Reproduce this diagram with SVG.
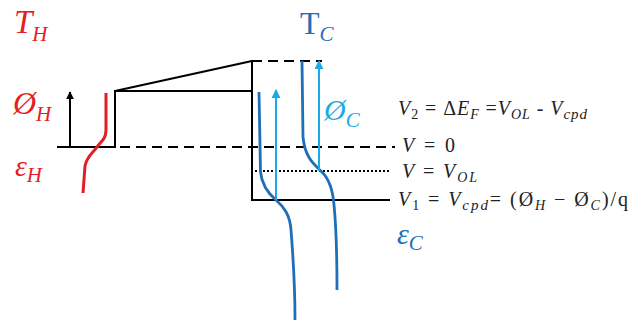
<svg xmlns="http://www.w3.org/2000/svg" width="631" height="320" viewBox="0 0 631 320">
<style>
.k{stroke:#000;stroke-width:2;fill:none}
.dash{stroke:#000;stroke-width:2.2;fill:none;stroke-dasharray:10,6}
.dot{stroke:#000;stroke-width:1.8;fill:none;stroke-dasharray:2,2}
.red{stroke:#e31e24;stroke-width:3;fill:none}
.blue{stroke:#1f6fb8;stroke-width:2.8;fill:none}
.lb{stroke:#1aabe6;stroke-width:2;fill:none}
.m{font-family:"Liberation Serif",serif;font-style:italic}
.rt{fill:#e31e24}
.bt{fill:#1f6fb8}
.lbt{fill:#1aabe6}
.eq{font-family:"Liberation Serif",serif;font-style:italic;font-size:20px;fill:#222}
</style>
<defs>
<marker id="ak" viewBox="0 0 10 10" refX="9" refY="5" markerWidth="8" markerHeight="8" markerUnits="userSpaceOnUse" orient="auto"><path d="M0,0 L10,5 L0,10 z" fill="#000"/></marker>
<marker id="ab" viewBox="0 0 10 10" refX="9" refY="5" markerWidth="9" markerHeight="9" markerUnits="userSpaceOnUse" orient="auto"><path d="M0,0 L10,5 L0,10 z" fill="#1aabe6"/></marker>
</defs>
<g id="connectors">
<line class="k" x1="57" y1="147" x2="116" y2="147"/>
<line class="dash" x1="120" y1="147" x2="395" y2="147"/>
<line class="k" x1="115" y1="147" x2="115" y2="90"/>
<line class="k" x1="115" y1="91" x2="252" y2="61"/>
<line class="k" x1="115" y1="91" x2="252" y2="91"/>
<line class="k" x1="252" y1="60" x2="252" y2="201"/>
<line class="dash" x1="252" y1="61" x2="322" y2="61"/>
<line class="k" x1="252" y1="200" x2="390" y2="200"/>
<line class="dot" x1="255" y1="171" x2="390" y2="171"/>
<line class="k" x1="70" y1="147" x2="70" y2="92" marker-end="url(#ak)"/>
<path class="red" d="M106,93 L106,130 C106,140 100,142 97,147 C93,153 87,156 85,166 L83,193"/>
<path class="blue" d="M259,92 L260.5,172 C262,186 270,195 276,200 C284,207 290,215 291,230 C293,255 295,290 295,320"/>
<path class="blue" d="M302,61 L303,137 C305,158 314,164 322,172 C330,180 333,192 334,205 C336,225 337,260 337,290"/>
<line class="lb" x1="276" y1="200" x2="276" y2="90" marker-end="url(#ab)"/>
<line class="lb" x1="319" y1="171" x2="319" y2="61" marker-end="url(#ab)"/>
</g>
<g id="TH"><text class="m rt" x="14" y="33" font-size="33">T<tspan font-size="21" dy="8">H</tspan></text></g>
<g id="phiH"><text class="m rt" x="13" y="114" font-size="32">Ø<tspan font-size="21" dy="7">H</tspan></text></g>
<g id="epsH"><text class="m rt" x="15" y="176" font-size="30">ε<tspan font-size="21" dy="6">H</tspan></text></g>
<g id="TC"><text x="300" y="34" font-family="Liberation Serif,serif" font-size="32" class="bt">T<tspan class="m" font-size="21" dy="7">C</tspan></text></g>
<g id="phiC"><text class="m lbt" x="324" y="120" font-size="30">Ø<tspan font-size="21" dy="7">C</tspan></text></g>
<g id="epsC"><text class="m bt" x="397" y="244" font-size="30">ε<tspan font-size="21" dy="6">C</tspan></text></g>
<g id="labels">
<text class="eq" x="398" y="115" textLength="189" lengthAdjust="spacing">V<tspan font-size="14" font-style="normal" dy="4">2</tspan><tspan dy="-4" font-style="normal"> = Δ</tspan>E<tspan font-size="14" dy="4">F</tspan><tspan dy="-4" font-style="normal"> =</tspan>V<tspan font-size="14" dy="4">OL</tspan><tspan dy="-4" font-style="normal"> - </tspan>V<tspan font-size="15" dy="4">cpd</tspan></text>
<text class="eq" x="402" y="152" textLength="53" lengthAdjust="spacing">V<tspan font-style="normal"> = 0</tspan></text>
<text class="eq" x="402" y="178" textLength="75" lengthAdjust="spacing">V<tspan font-style="normal"> = </tspan>V<tspan font-size="14" dy="4">OL</tspan></text>
<text class="eq" x="398" y="206" textLength="230" lengthAdjust="spacing">V<tspan font-size="14" font-style="normal" dy="4">1</tspan><tspan dy="-4" font-style="normal"> = </tspan>V<tspan font-size="15" dy="4">cpd</tspan><tspan dy="-4" font-style="normal">= (Ø</tspan><tspan font-size="14" dy="4">H</tspan><tspan dy="-4" font-style="normal"> − Ø</tspan><tspan font-size="14" dy="4">C</tspan><tspan dy="-4" font-style="normal">)/q</tspan></text>
</g>
</svg>
